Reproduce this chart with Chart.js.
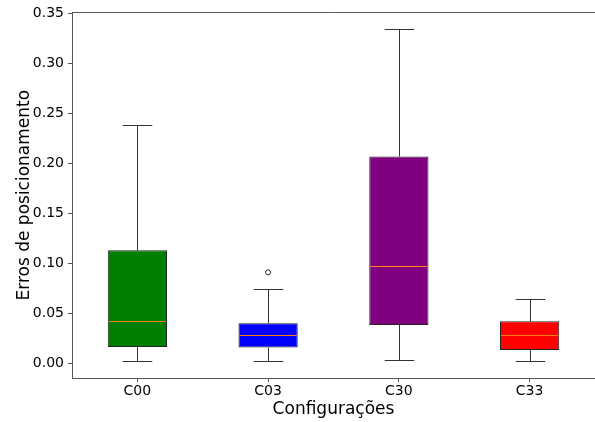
<!DOCTYPE html>
<html lang="pt-br">
<head>
    <title>Boxplot</title>
    <meta charset="UTF-8">
    <script src="https://cdn.jsdelivr.net/npm/chart.js"></script>
    <style>
        html, body { margin: 0; padding: 0; background: #fff; overflow: hidden; }
        #wrap { width: 600px; height: 422px; }
    </style>
</head>
<body>
    <div id="wrap"><canvas id="chart"></canvas></div>
    <script>
        // dados
        var categorias = ['C00', 'C03', 'C30', 'C33'];
        var minimos  = [0.002, 0.002, 0.0033, 0.002];
        var q1       = [0.0163, 0.0157, 0.0383, 0.0133];
        var medianas = [0.0427, 0.0287, 0.097, 0.0283];
        var q3       = [0.113, 0.040, 0.207, 0.042];
        var maximos  = [0.239, 0.0747, 0.335, 0.0647];
        var outliers = [null, 0.091, null, null];
        var cores    = ['#008000', '#0000ff', '#800080', '#ff0000'];
        var yTicks   = [0, 0.05, 0.10, 0.15, 0.20, 0.25, 0.30, 0.35];

        var corEixo = '#555555';

        // whiskers, medianas e moldura
        var boxPlugin = {
            id: 'boxExtras',
            afterDatasetsDraw: function (chart) {
                var ctx = chart.ctx;
                var xs = chart.scales.x, ys = chart.scales.y;
                var meta = chart.getDatasetMeta(0);
                ctx.save();
                for (var i = 0; i < categorias.length; i++) {
                    var bar = meta.data[i];
                    var x = Math.round(xs.getPixelForValue(i)) + 0.5;
                    var w = bar.width;
                    var cap = w / 4;
                    var yMax = Math.round(ys.getPixelForValue(maximos[i])) + 0.5;
                    var yQ3 = ys.getPixelForValue(q3[i]);
                    var yQ1 = ys.getPixelForValue(q1[i]);
                    var yMin = Math.round(ys.getPixelForValue(minimos[i])) + 0.5;
                    ctx.strokeStyle = '#333';
                    ctx.lineWidth = 1;
                    ctx.beginPath();
                    ctx.moveTo(x, yQ3); ctx.lineTo(x, yMax);
                    ctx.moveTo(x - cap, yMax); ctx.lineTo(x + cap, yMax);
                    ctx.moveTo(x, yQ1); ctx.lineTo(x, yMin);
                    ctx.moveTo(x - cap, yMin); ctx.lineTo(x + cap, yMin);
                    ctx.stroke();
                    var yMed = Math.round(ys.getPixelForValue(medianas[i])) + 0.5;
                    ctx.strokeStyle = '#ff7f0e';
                    ctx.beginPath();
                    ctx.moveTo(bar.x - w / 2 + 1, yMed); ctx.lineTo(bar.x + w / 2 - 1, yMed);
                    ctx.stroke();
                }
                // moldura superior
                var a = chart.chartArea;
                ctx.strokeStyle = corEixo;
                ctx.beginPath();
                ctx.moveTo(a.left, Math.round(a.top) + 0.5);
                ctx.lineTo(a.right, Math.round(a.top) + 0.5);
                ctx.moveTo(Math.round(a.right) + 0.5, a.top);
                ctx.lineTo(Math.round(a.right) + 0.5, a.bottom);
                ctx.stroke();
                ctx.restore();
            }
        };

        var ctx = document.getElementById('chart').getContext('2d');
        var chart = new Chart(ctx, {
            data: {
                labels: categorias,
                datasets: [
                    {
                        type: 'bar',
                        data: categorias.map(function (c, i) { return [q1[i], q3[i]]; }),
                        backgroundColor: cores,
                        borderColor: '#222',
                        borderWidth: 1,
                        borderSkipped: false,
                        barPercentage: 0.453,
                        categoryPercentage: 1.0
                    },
                    {
                        type: 'line',
                        data: outliers,
                        showLine: false,
                        pointRadius: 2.5,
                        pointBackgroundColor: 'rgba(255,255,255,0)',
                        pointBorderColor: '#222',
                        pointBorderWidth: 1
                    }
                ]
            },
            options: {
                responsive: true,
                maintainAspectRatio: false,
                animation: false,
                layout: { padding: { top: 12, right: 4, left: 0, bottom: 0 } },
                plugins: {
                    legend: { display: false },
                    tooltip: { enabled: false }
                },
                scales: {
                    x: {
                        afterFit: function (s) { s.height = 44; },
                        grid: {
                            offset: false,
                            drawOnChartArea: false,
                            drawTicks: true,
                            tickLength: 4,
                            color: corEixo
                        },
                        border: { color: corEixo, width: 1 },
                        ticks: {
                            color: '#000',
                            padding: 1,
                            font: { family: 'DejaVu Sans', size: 14 }
                        },
                        title: {
                            display: true,
                            text: 'Configurações',
                            color: '#000',
                            font: { family: 'DejaVu Sans', size: 17 },
                            padding: { top: 0, bottom: 2 }
                        }
                    },
                    y: {
                        min: -0.0148,
                        max: 0.3513,
                        afterFit: function (s) { s.width = 72; },
                        afterBuildTicks: function (s) {
                            s.ticks = yTicks.map(function (v) { return { value: v }; });
                        },
                        grid: {
                            drawOnChartArea: false,
                            drawTicks: true,
                            tickLength: 4,
                            color: corEixo
                        },
                        border: { color: corEixo, width: 1 },
                        ticks: {
                            color: '#000',
                            padding: 4,
                            font: { family: 'DejaVu Sans', size: 14 },
                            callback: function (v) { return Number(v).toFixed(2); }
                        },
                        title: {
                            display: true,
                            text: 'Erros de posicionamento',
                            color: '#000',
                            font: { family: 'DejaVu Sans', size: 17 },
                            padding: { top: 14, bottom: 0 }
                        }
                    }
                }
            },
            plugins: [boxPlugin]
        });
    </script>
</body>
</html>
